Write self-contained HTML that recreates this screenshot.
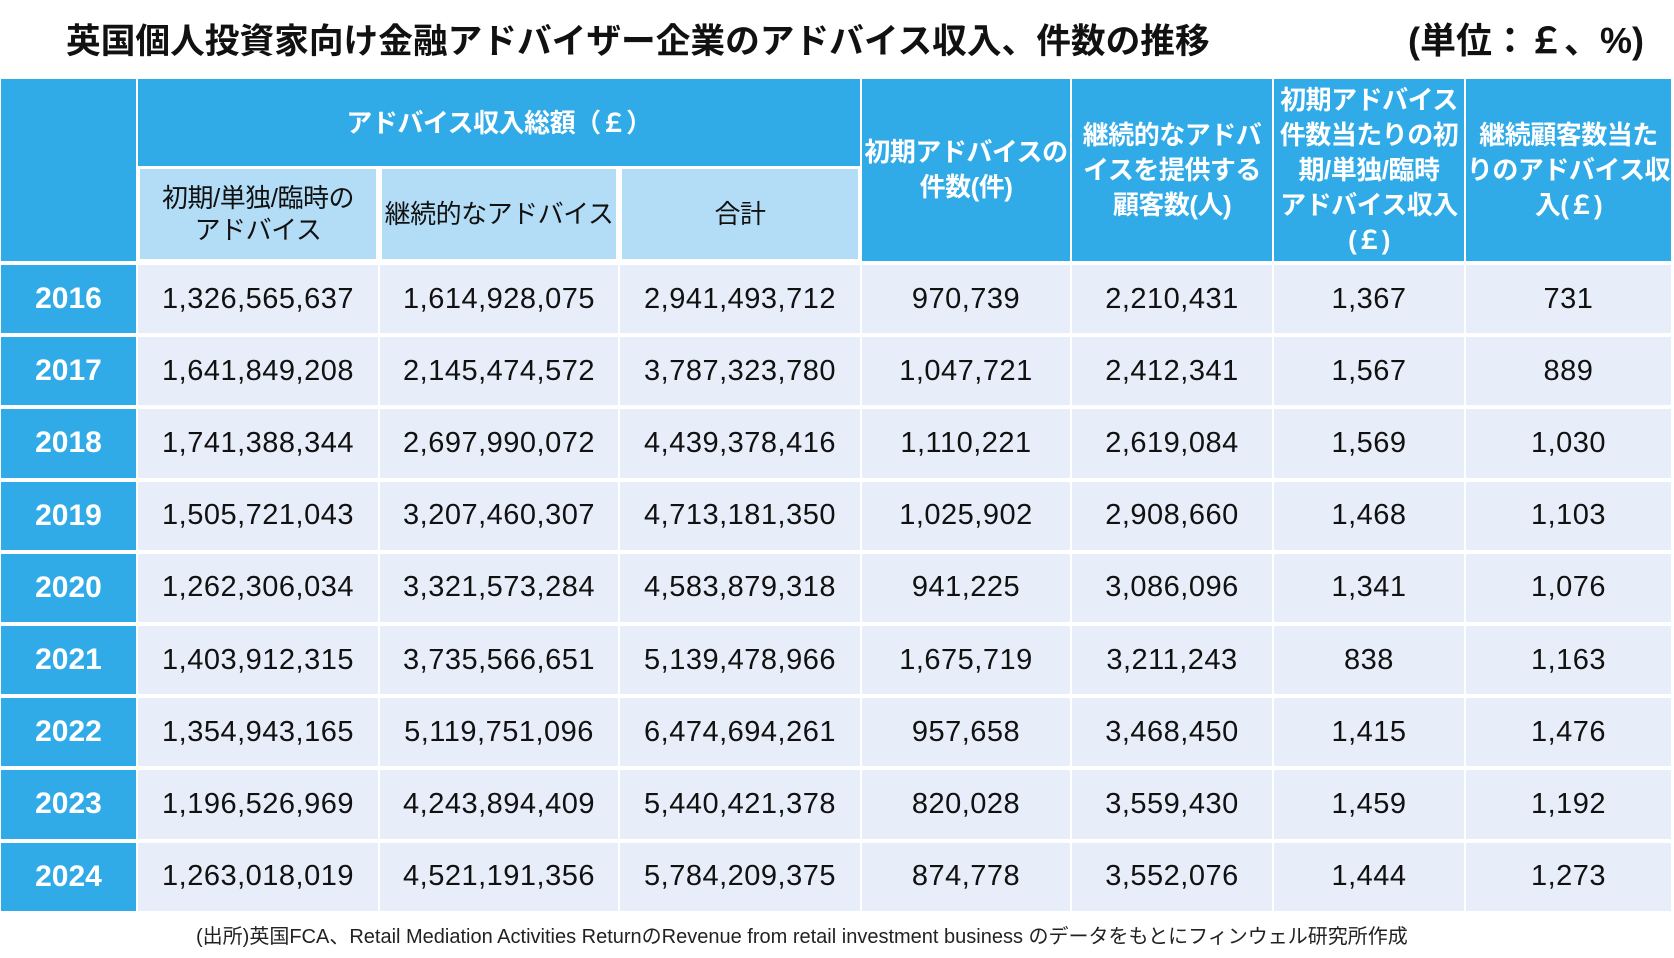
<!DOCTYPE html>
<html><head><meta charset="utf-8"><style>
body{margin:0;width:1674px;height:958px;background:#fff;position:relative;overflow:hidden;font-family:"Liberation Sans","Noto Sans CJK JP",sans-serif}
.c{position:absolute;box-sizing:border-box;display:flex;align-items:center;justify-content:center;text-align:center;border:1.5px solid #fff;white-space:nowrap}
.h{background:#30abe8;color:#fff;font-weight:bold;font-size:26px;line-height:35px;letter-spacing:-0.5px}
.s{background:#b3ddf6;color:#111;font-size:26px;line-height:32px;border:3px solid #fff;letter-spacing:-0.5px}
.y{background:#30abe8;color:#fff;font-weight:bold;font-size:30px}
.d{background:#e7eef9;color:#111;font-size:29px;letter-spacing:0.5px}
.t{position:absolute;font-weight:bold;font-size:34.7px;color:#111;top:13px}
</style></head><body>
<div class="t" style="left:66px">英国個人投資家向け金融アドバイザー企業のアドバイス収入、件数の推移</div>
<div class="t" style="right:30px;font-size:36px;top:12px">(単位：￡、%)</div>
<div id="g"></div>
<div style="position:absolute;top:920px;left:196px;font-size:20px;color:#222;white-space:nowrap">(出所)英国FCA、Retail Mediation Activities ReturnのRevenue from retail investment business のデータをもとにフィンウェル研究所作成</div>
<script>
var X=[0,137,379,619,861,1071,1273,1465,1672];
var g=document.getElementById('g'),h='';
function cell(cls,x0,x1,y0,y1,t){h+='<div class="c '+cls+'" style="left:'+x0+'px;top:'+y0+'px;width:'+(x1-x0)+'px;height:'+(y1-y0)+'px">'+t+'</div>';}
cell('h',X[0],X[1],78,262,'');
cell('h',X[1],X[4],78,168,'アドバイス収入総額（￡）');
cell('s',X[1],X[2],166,262,'初期/単独/臨時の<br>アドバイス');
cell('s',X[2],X[3],166,262,'継続的なアドバイス');
cell('s',X[3],X[4],166,262,'合計');
cell('h',X[4],X[5],78,262,'初期アドバイスの<br>件数(件)');
cell('h',X[5],X[6],78,262,'継続的なアドバ<br>イスを提供する<br>顧客数(人)');
cell('h',X[6],X[7],78,262,'初期アドバイス<br>件数当たりの初<br>期/単独/臨時<br>アドバイス収入<br>(￡)');
cell('h',X[7],X[8],78,262,'継続顧客数当た<br>りのアドバイス収<br>入(￡)');
var D=[
['2016','1,326,565,637','1,614,928,075','2,941,493,712','970,739','2,210,431','1,367','731'],
['2017','1,641,849,208','2,145,474,572','3,787,323,780','1,047,721','2,412,341','1,567','889'],
['2018','1,741,388,344','2,697,990,072','4,439,378,416','1,110,221','2,619,084','1,569','1,030'],
['2019','1,505,721,043','3,207,460,307','4,713,181,350','1,025,902','2,908,660','1,468','1,103'],
['2020','1,262,306,034','3,321,573,284','4,583,879,318','941,225','3,086,096','1,341','1,076'],
['2021','1,403,912,315','3,735,566,651','5,139,478,966','1,675,719','3,211,243','838','1,163'],
['2022','1,354,943,165','5,119,751,096','6,474,694,261','957,658','3,468,450','1,415','1,476'],
['2023','1,196,526,969','4,243,894,409','5,440,421,378','820,028','3,559,430','1,459','1,192'],
['2024','1,263,018,019','4,521,191,356','5,784,209,375','874,778','3,552,076','1,444','1,273']];
for(var r=0;r<9;r++){var y0=262+r*72.2+2,y1=262+(r+1)*72.2;
for(var c=0;c<8;c++)cell(c?'d':'y',X[c],X[c+1],y0,y1,D[r][c]);}
g.innerHTML=h;
</script>
</body></html>
